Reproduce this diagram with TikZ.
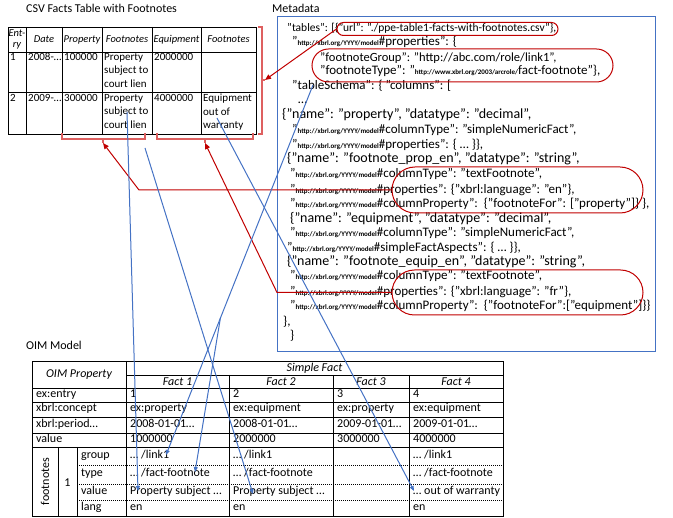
\documentclass[tikz,border=0pt]{standalone}
\usepackage{fontspec}
\setmainfont{Carlito}
\usetikzlibrary{arrows.meta,shapes.misc,calc}
\definecolor{linkblue}{RGB}{68,114,196}
\definecolor{linkred}{RGB}{192,0,0}
\definecolor{brackred}{RGB}{222,96,96}
\newcommand{\xmodurl}{{\fontsize{7}{8}\selectfont\bfseries http://xbrl.org/YYYY/model}}
\newcommand{\xarcurl}{{\fontsize{7}{8}\selectfont\bfseries http://www.xbrl.org/2003/arcrole/}}
\begin{document}
\begin{tikzpicture}[x=1pt,y=-1pt,
        title/.style={anchor=mid west, inner sep=0pt, font=\fontsize{12}{14}\selectfont},
        mdtext/.style={anchor=mid west, inner sep=0pt, font=\fontsize{13}{15}\selectfont},
        mdname/.style={mdtext, font=\fontsize{14}{15}\selectfont},
        csvhead/.style={inner sep=0pt, align=center, font=\fontsize{10.5}{12}\selectfont\itshape},
        csvcell/.style={anchor=north west, inner sep=0pt, align=left, font=\fontsize{11}{13.5}\selectfont},
        oimhead/.style={inner sep=0pt, font=\fontsize{12}{14}\selectfont\itshape},
        oimcell/.style={anchor=mid west, inner sep=0pt, font=\fontsize{12}{14}\selectfont},
        tabrule/.style={line width=0.9pt},
        dotrule/.style={line width=0.8pt, dash pattern=on 0.8pt off 1.2pt},
        oval/.style={rounded rectangle, draw=linkred, line width=1pt, inner sep=0pt},
        bracket/.style={draw=brackred, line width=1.4pt},
        redlink/.style={draw=linkred, line width=1pt, -{Triangle[length=6pt,width=5pt]}},
        bluelink/.style={draw=linkblue, line width=1pt, -{Triangle[length=5pt,width=4pt]}}
    ]
    \useasboundingbox (0,0) rectangle (673,518);

    \node[title] (csvtitle) at (26,10) {CSV Facts Table with Footnotes};
    \node[title] (mdtitle) at (272,10) {Metadata};
    \node[title] (oimtitle) at (26,347) {OIM Model};

    \draw[tabrule] (8,27) rectangle (256,134);
    \foreach \x in {26,62,102,152,201} \draw[tabrule] (\x,27) -- (\x,134);
    \foreach \y in {52,92} \draw[tabrule] (8,\y) -- (256,\y);

    \node[csvhead, font=\fontsize{10.5}{11}\selectfont\itshape] (hentry) at (17,39.5) {Ent-\\ry};
    \foreach \x/\t [count=\i] in {44/Date, 82/Property, 127/Footnotes, 176.5/Equipment, 228.5/Footnotes}
        \node[csvhead] (head\i) at (\x,39.5) {\t};

    \node[csvcell] (c11) at (10,53) {1};
    \node[csvcell] (c12) at (28,53) {2008-…};
    \node[csvcell] (c13) at (64,53) {100000};
    \node[csvcell] (c14) at (104,53) {Property\\subject to\\court lien};
    \node[csvcell] (c15) at (154,53) {2000000};
    \node[csvcell] (c21) at (10,94) {2};
    \node[csvcell] (c22) at (28,94) {2009-…};
    \node[csvcell] (c23) at (64,94) {300000};
    \node[csvcell] (c24) at (104,94) {Property\\subject to\\court lien};
    \node[csvcell] (c25) at (154,94) {4000000};
    \node[csvcell] (c26) at (203,94) {Equipment\\out of\\warranty};

    \draw[bracket] (258,27) -- (262,27) -- (262,134) -- (258,134);
    \draw[bracket] (262,80) -- (265,80);
    \draw[bracket] (62,133) -- (62,139) -- (145,139) -- (145,133);
    \draw[bracket] (103,139) -- (103,143);
    \draw[bracket] (157,133) -- (157,139) -- (253,139) -- (253,133);
    \draw[bracket] (205,139) -- (205,143);
    \coordinate (brR) at (265,80);
    \coordinate (brP) at (103,143);
    \coordinate (brE) at (205,143);

    \draw[draw=linkblue, line width=1pt] (277,17) rectangle (655,352);

    \node[mdtext, font=\fontsize{11.5}{13}\selectfont] (md1) at (287,29) {"tables": [\{"url": "./ppe-table1-facts-with-footnotes.csv"\},};
    \node[mdtext] (md2) at (292,43) {"\xmodurl\#properties": \{};
    \node[mdtext, font=\fontsize{12.5}{14}\selectfont] (md3) at (320,59) {"footnoteGroup": "http://abc.com/role/link1",};
    \node[mdtext] (md4) at (320,72) {"footnoteType": "\xarcurl fact-footnote"\},};
    \node[mdtext] (md5) at (292,87) {"tableSchema": \{ "columns": [};
    \node[mdtext] (md6) at (298,101) {…};
    \node[mdname] (md7) at (282,116) {\{"name": "property", "datatype": "decimal",};
    \node[mdtext] (md8) at (292,131) {"\xmodurl\#columnType": "simpleNumericFact",};
    \node[mdtext] (md9) at (292,146) {"\xmodurl\#properties": \{ … \}\},};
    \node[mdname] (md10) at (287,160) {\{"name": "footnote\_prop\_en", "datatype": "string",};
    \node[mdtext] (md11) at (290,175) {"\xmodurl\#columnType": "textFootnote",};
    \node[mdtext] (md12) at (290,191) {"\xmodurl\#properties": \{"xbrl:language": "en"\},};
    \node[mdtext] (md13) at (290,205) {"\xmodurl\#columnProperty":\ \ \{"footnoteFor": ["property"]\} \},};
    \node[mdname] (md14) at (290,220) {\{"name": "equipment", "datatype": "decimal",};
    \node[mdtext] (md15) at (290,234) {"\xmodurl\#columnType": "simpleNumericFact",};
    \node[mdtext] (md16) at (287,249) {"\xmodurl\#simpleFactAspects": \{ … \}\},};
    \node[mdname] (md17) at (287,263) {\{"name": "footnote\_equip\_en", "datatype": "string",};
    \node[mdtext] (md18) at (290,277) {"\xmodurl\#columnType": "textFootnote",};
    \node[mdtext] (md19) at (290,293) {"\xmodurl\#properties": \{"xbrl:language": "fr"\},};
    \node[mdtext] (md20) at (290,307) {"\xmodurl\#columnProperty":\ \ \{"footnoteFor":["equipment"]\}\}};
    \node[mdtext] (md21) at (283,323) {\},};
    \node[mdtext] (md22) at (290,337) {\}};

    \node[oval, minimum width=221pt, minimum height=13pt] (urloval) at (447.5,29) {};
    \node[oval, minimum width=301pt, minimum height=33pt] (grpoval) at (462.5,65.5) {};
    \node[oval, minimum width=251pt, minimum height=46pt] (propoval) at (517.5,190) {};
    \node[oval, minimum width=251pt, minimum height=45pt] (equipoval) at (517.5,292.5) {};

    \coordinate (bendP) at (139,190);
    \coordinate (bendE) at (277,292);
    \draw[redlink] (urloval.west) -- (brR);
    \draw[redlink] (propoval.west) -- (propoval.west -| bendP) -- (brP);
    \draw[redlink] (equipoval.west) -- (equipoval.west -| bendE) -- (brE);

    \draw[tabrule] (32,361) rectangle (503,516);
    \draw[tabrule] (126,361) -- (126,516);
    \draw[tabrule] (126,375) -- (503,375);
    \foreach \x in {229,333,409} \draw[tabrule] (\x,375) -- (\x,516);
    \foreach \y in {388,402,417,433,447} \draw[tabrule] (32,\y) -- (503,\y);
    \foreach \x in {58,77} \draw[tabrule] (\x,447) -- (\x,516);
    \foreach \y in {465,484,500} \draw[dotrule] (77,\y) -- (503,\y);

    \node[oimhead] (oimprop) at (79,374.5) {OIM Property};
    \node[oimhead] (simple) at (314.5,368) {Simple Fact};
    \foreach \x/\t [count=\i] in {177.5/Fact 1, 281/Fact 2, 371/Fact 3, 456/Fact 4}
        \node[oimhead] (fact\i) at (\x,381.5) {\t};

    \foreach \y/\t [count=\i] in {395/ex:entry, 409.5/xbrl:concept, 425/xbrl:period…, 440/value}
        \node[oimcell] (prop\i) at (36,\y) {\t};
    \node[oimcell, anchor=center, rotate=90] (fnlabel) at (45,481.5) {footnotes};
    \node[oimcell, anchor=center] (fnone) at (67.5,483) {1};
    \foreach \y/\t [count=\i] in {456/group, 474.5/type, 492/value, 508/lang}
        \node[oimcell] (sub\i) at (81,\y) {\t};

    \foreach \x/\e/\c/\d/\v [count=\j] in {130/1/ex:property/2008-01-01…/1000000,
            233/2/ex:equipment/2008-01-01…/2000000,
            337/3/ex:property/2009-01-01…/3000000,
            413/4/ex:equipment/2009-01-01…/4000000} {
        \node[oimcell] (entry\j) at (\x,395) {\e};
        \node[oimcell] (concept\j) at (\x,409.5) {\c};
        \node[oimcell] (period\j) at (\x,425) {\d};
        \node[oimcell] (value\j) at (\x,440) {\v};
    }
    \foreach \x/\v [count=\j] in {130/Property subject …, 233/Property subject …, 413/… out of warranty} {
        \node[oimcell] (group\j) at (\x,456) {… /link1};
        \node[oimcell] (type\j) at (\x,474.5) {… /fact-footnote};
        \node[oimcell] (fval\j) at (\x,492) {\v};
        \node[oimcell] (lang\j) at (\x,508) {en};
    }

    \coordinate (s1) at (127,112);
    \coordinate (t1) at (138,491);
    \coordinate (s2) at (145,148);
    \coordinate (t2) at (253,494);
    \coordinate (s3) at (313,85);
    \coordinate (t3) at (166,455);
    \coordinate (t3b) at (195,472);
    \coordinate (s4) at (217,118);
    \coordinate (t4) at (414,491);
    \draw[bluelink] (s1) -- (t1);
    \draw[bluelink] (s2) -- (t2);
    \draw[bluelink] (s3) -- (t3);
    \draw[bluelink] ($(s3)!0.63!(t3)$) -- (t3b);
    \draw[bluelink] (s4) -- (t4);

\end{tikzpicture}
\end{document}
